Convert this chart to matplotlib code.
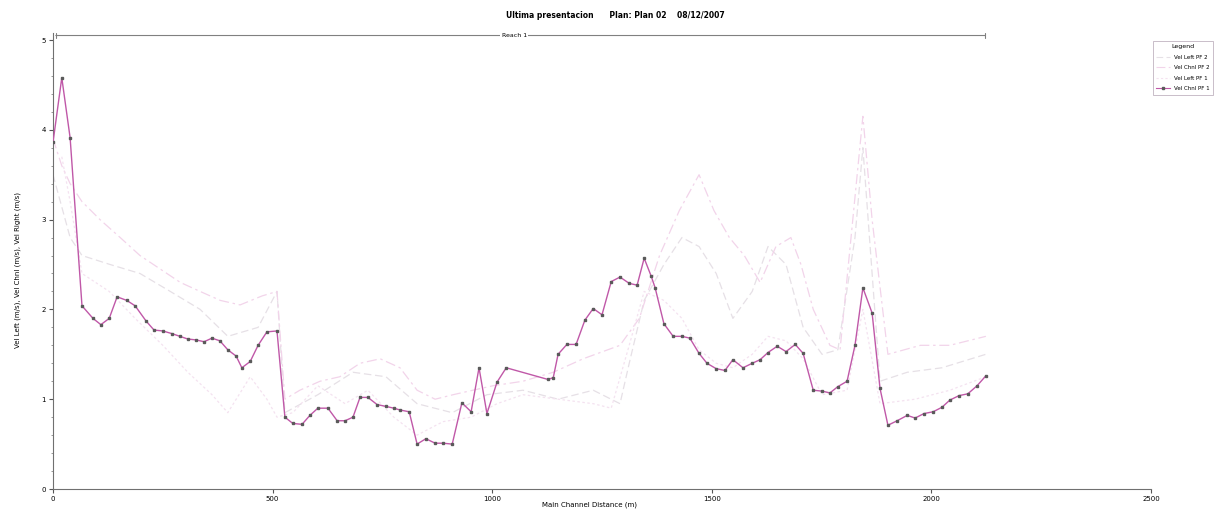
import matplotlib
matplotlib.use('Agg')
from matplotlib import pyplot as plt
from matplotlib.lines import Line2D

# perfil de velocidades - Reach 1
dist_chnl_pf1 = [0, 20, 39, 66, 91, 109, 128, 146, 168, 187, 212, 230, 250, 271, 289, 307,
                 326, 344, 362, 380, 398, 417, 430, 449, 467, 487, 510, 528, 546, 567, 585,
                 603, 626, 647, 665, 683, 699, 717, 738, 758, 776, 790, 811, 829, 849, 870,
                 888, 909, 931, 952, 970, 988, 1011, 1032, 1127, 1139, 1150, 1170, 1191,
                 1211, 1230, 1250, 1271, 1291, 1312, 1330, 1346, 1362, 1371, 1391, 1412,
                 1432, 1450, 1471, 1489, 1510, 1530, 1548, 1571, 1592, 1610, 1628, 1649,
                 1669, 1690, 1708, 1731, 1751, 1769, 1787, 1808, 1826, 1844, 1865, 1883,
                 1901, 1922, 1945, 1963, 1983, 2004, 2024, 2042, 2063, 2083, 2104, 2124]
vel_chnl_pf1 = [3.86, 4.58, 3.91, 2.04, 1.90, 1.83, 1.90, 2.14, 2.10, 2.04, 1.87, 1.77, 1.76,
                1.73, 1.70, 1.67, 1.66, 1.64, 1.68, 1.65, 1.55, 1.48, 1.35, 1.42, 1.60, 1.75,
                1.76, 0.80, 0.73, 0.72, 0.82, 0.90, 0.90, 0.76, 0.76, 0.80, 1.02, 1.02, 0.94,
                0.92, 0.90, 0.88, 0.86, 0.50, 0.56, 0.51, 0.51, 0.50, 0.96, 0.86, 1.35, 0.84,
                1.19, 1.35, 1.22, 1.24, 1.50, 1.61, 1.61, 1.88, 2.01, 1.94, 2.31, 2.36, 2.29,
                2.27, 2.57, 2.37, 2.24, 1.84, 1.70, 1.70, 1.68, 1.51, 1.40, 1.34, 1.32, 1.44,
                1.35, 1.40, 1.44, 1.52, 1.59, 1.53, 1.61, 1.51, 1.10, 1.09, 1.07, 1.14, 1.20,
                1.60, 2.24, 1.96, 1.12, 0.71, 0.76, 0.82, 0.79, 0.84, 0.86, 0.91, 0.99, 1.04,
                1.06, 1.15, 1.26]

dist_chnl_pf2 = [0, 20, 39, 66, 107, 153, 198, 244, 290, 335, 381, 426, 476, 510, 528, 562,
                 608, 653, 699, 745, 790, 829, 870, 911, 956, 1002, 1070, 1139, 1207, 1291,
                 1335, 1381, 1426, 1471, 1505, 1540, 1574, 1610, 1646, 1680, 1703, 1731,
                 1769, 1792, 1815, 1844, 1865, 1901, 1975, 2042, 2124]
vel_chnl_pf2 = [3.90, 3.60, 3.40, 3.20, 3.00, 2.80, 2.60, 2.45, 2.30, 2.20, 2.10, 2.05, 2.15,
                2.20, 1.00, 1.10, 1.20, 1.25, 1.40, 1.45, 1.35, 1.10, 1.00, 1.05, 1.10, 1.15,
                1.20, 1.30, 1.45, 1.60, 1.90, 2.60, 3.10, 3.50, 3.10, 2.80, 2.60, 2.30, 2.70,
                2.80, 2.50, 2.00, 1.60, 1.55, 2.70, 4.15, 3.00, 1.50, 1.60, 1.60, 1.70]

dist_left_pf2 = [0, 39, 66, 130, 198, 267, 335, 398, 467, 510, 528, 603, 683, 758, 829, 909,
                 988, 1070, 1150, 1230, 1291, 1312, 1346, 1391, 1432, 1471, 1510, 1548,
                 1592, 1628, 1669, 1708, 1751, 1787, 1826, 1844, 1883, 1945, 2024, 2124]
vel_left_pf2 = [3.50, 2.80, 2.60, 2.50, 2.40, 2.20, 2.00, 1.70, 1.80, 2.20, 0.85, 1.05, 1.30,
                1.25, 0.95, 0.85, 1.05, 1.10, 1.00, 1.10, 0.95, 1.40, 2.10, 2.50, 2.80, 2.70,
                2.40, 1.90, 2.20, 2.70, 2.50, 1.80, 1.50, 1.55, 2.80, 3.80, 1.20, 1.30, 1.35,
                1.50]

dist_left_pf1 = [20, 39, 66, 128, 187, 250, 307, 362, 398, 449, 487, 510, 546, 603, 665, 717,
                 776, 829, 888, 952, 1011, 1070, 1150, 1230, 1271, 1312, 1346, 1391, 1432,
                 1471, 1510, 1548, 1592, 1628, 1669, 1708, 1751, 1808, 1844, 1883, 1963,
                 2042, 2124]
vel_left_pf1 = [3.70, 3.20, 2.40, 2.20, 1.90, 1.60, 1.30, 1.05, 0.85, 1.25, 1.00, 0.80, 0.85,
                1.15, 0.95, 1.10, 0.80, 0.60, 0.75, 0.80, 0.95, 1.05, 1.00, 0.95, 0.90, 1.60,
                2.20, 2.10, 1.90, 1.55, 1.40, 1.35, 1.50, 1.70, 1.65, 1.45, 1.05, 1.10, 2.00,
                0.95, 1.00, 1.10, 1.25]

title_txt = 'Ultima presentacion      Plan: Plan 02    08/12/2007'
reach_name = 'Reach 1'
legend_labels = ['Vel Left PF 2', 'Vel Chnl PF 2', 'Vel Left PF 1', 'Vel Chnl PF 1']

c_left2 = '#e6e0e6'
c_chnl2 = '#f2d4ea'
c_left1 = '#f4e2f0'
c_chnl1 = '#c058a8'

fig = plt.figure(figsize=(12.27, 5.12), dpi=100)
ax = fig.add_axes([53 / 1227, 23 / 512, (1151 - 53) / 1227, (489 - 33) / 512])

# lineas tenues de fondo
ax.plot(dist_left_pf2, vel_left_pf2, color=c_left2, lw=0.9, ls=(0, (6, 3)), zorder=2)
ax.plot(dist_chnl_pf2, vel_chnl_pf2, color=c_chnl2, lw=0.9, ls=(0, (8, 3, 2, 3)), zorder=2)
ax.plot(dist_left_pf1, vel_left_pf1, color=c_left1, lw=0.9, ls=(0, (2, 2)), zorder=2)
# canal principal PF 1
ax.plot(dist_chnl_pf1, vel_chnl_pf1, color=c_chnl1, lw=1.0, marker='s', ms=1.9,
        mfc='#5a5a5a', mec='#5a5a5a', zorder=4)

ax.set_xlim(0, 2500)
ax.set_ylim(0, (489 - 33) / 89.8)
ax.set_xticks([0, 500, 1000, 1500, 2000, 2500])
ax.set_yticks([0, 1, 2, 3, 4, 5])
ax.set_yticks([i / 5 for i in range(26)], minor=True)
ax.tick_params(axis='both', which='major', labelsize=5, length=3, color='#555555', pad=2)
ax.tick_params(axis='y', which='minor', length=1.5, color='#888888')
for s in ['top', 'right']:
    ax.spines[s].set_visible(False)
for s in ['left', 'bottom']:
    ax.spines[s].set_color('#707070')
    ax.spines[s].set_linewidth(0.8)

fig.text(590 / 1227, 1 - 505 / 512, 'Main Channel Distance (m)', fontsize=5,
         ha='center', va='center')
fig.text(18 / 1227, 1 - 270 / 512, 'Vel Left (m/s), Vel Chnl (m/s), Vel Right (m/s)',
         rotation=90, fontsize=5, ha='center', va='center')
fig.text(615 / 1227, 1 - 15 / 512, title_txt, fontsize=5.5, ha='center', va='center',
         fontweight='bold')

# linea del tramo
ax.annotate('', xy=(0, 5.05), xytext=(2129, 5.05), xycoords='data',
            arrowprops=dict(arrowstyle='|-|', color='#808080', lw=0.8,
                            mutation_scale=2), annotation_clip=False)
ax.text(1050, 5.05, reach_name, fontsize=4.5, ha='center', va='center',
        bbox=dict(facecolor='white', edgecolor='none', pad=1), clip_on=False)

handles = [Line2D([], [], color=c_left2, lw=0.8, ls=(0, (6, 3))),
           Line2D([], [], color=c_chnl2, lw=0.8, ls=(0, (8, 3, 2, 3))),
           Line2D([], [], color=c_left1, lw=0.8, ls=(0, (2, 2))),
           Line2D([], [], color=c_chnl1, lw=0.8, marker='s', ms=1.8,
                  mfc='#5a5a5a', mec='#5a5a5a')]
leg = fig.legend(handles, legend_labels, loc='upper left',
                 bbox_to_anchor=(1150 / 1227, 1 - 38 / 512), fontsize=4,
                 title='Legend', title_fontsize=4.5, frameon=True, fancybox=False,
                 handlelength=2.5, borderpad=0.6, labelspacing=1.0)
leg.get_frame().set_edgecolor('#b0a0b0')
leg.get_frame().set_linewidth(0.6)

plt.savefig('out.png', dpi=100)
